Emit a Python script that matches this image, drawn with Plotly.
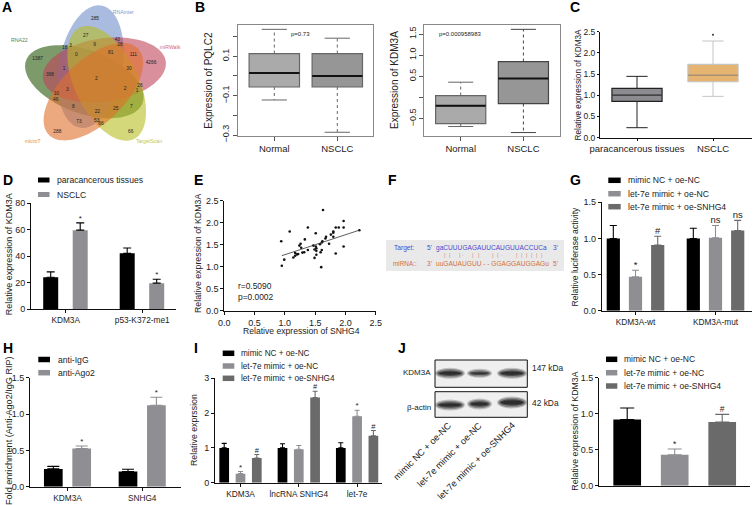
import numpy as np
import plotly.graph_objects as go

W, H = 753, 505
FONT = "Liberation Sans"
BLACK, GREY, DGREY = "#000000", "#8e8e93", "#6a6a6a"

# ---------- data ----------
venn_names = ["RNAinter", "miRWalk", "TargetScan", "microT", "RNA22"]
venn_colors = ["#708eca", "#c0445a", "#b9bc23", "#df702a", "#265708"]
venn_cx = [272, 313, 320, 280, 253]
venn_cy = [200, 210, 250, 275, 245]
venn_a = [186, 186, 186, 186, 186]
venn_b = [95, 95, 95, 95, 95]
venn_ang = [80, 8, -64, 44, -20]
venn_name_x = [370, 510, 447, 98, 58]
venn_name_y = [39, 143, 424, 424, 123]
venn_name_col = ["#7f9ad0", "#cf6a7e", "#c3c64a", "#e58a50", "#5a7f45"]
venn_lbl = ["285","27","43","28","9","3","18","0","81","111","4266","1387","1","30","368","2","26","2","1","3",
            "10","46","8","7","25","22","53","66","73","288","66"]
venn_lx = [285,257,352,360,284,212,194,229,332,400,453,113,192,387,150,289,420,375,411,202,169,167,220,394,347,292,290,303,237,172,392]
venn_ly = [55,107,118,133,134,138,143,165,158,165,187,175,205,205,225,235,258,265,272,270,282,298,320,320,325,335,363,372,365,395,395]

b_cats = ["Normal", "NSCLC"]
b1_upper = [0.237, 0.192]; b1_q3 = [0.114, 0.114]; b1_med = [0.015, 0.0]; b1_q1 = [-0.056, -0.056]; b1_lower = [-0.122, -0.286]
b2_upper = [0.362, 1.61]; b2_q3 = [0.047, 0.85]; b2_med = [-0.197, 0.449]; b2_q1 = [-0.614, -0.142]; b2_lower = [-0.685, -0.827]

c_cats = ["paracancerous tissues", "NSCLC"]
c_upper = [1.447, 2.28]; c_q3 = [1.163, 1.73]; c_med = [1.0, 1.47]; c_q1 = [0.857, 1.32]; c_lower = [0.236, 0.975]
c_outlier = [2.43]

d_cats = ["KDM3A", "p53-K372-me1"]
d_para = [24, 42]; d_para_err = [4, 4]
d_nsclc = [59.5, 19.5]; d_nsclc_err = [5.5, 3]
d_nsclc_mark = ["*", "*"]

e_x = [.94,.95,.99,1.08,1.14,1.17,1.17,1.2,1.22,1.24,1.26,1.27,1.29,1.32,1.33,1.38,1.38,1.47,1.49,1.49,1.51,1.51,1.52,1.52,1.52,1.58,1.59,1.6,1.61,1.61,1.62,1.63,1.67,1.68,1.73,1.76,1.8,1.8,1.8,1.84,1.84,1.89,1.97,1.97,1.97,2.23]
e_y = [1.58,1.02,1.16,1.8,1.21,1.25,1.31,1.28,1.29,1.48,1.52,1.43,1.32,1.33,1.62,1.89,1.38,1.48,1.39,1.2,1.46,1.76,1.27,1.36,1.42,1.51,1.33,.99,1.55,1.38,1.58,2.29,1.64,1.68,1.52,1.73,1.68,1.77,1.8,1.89,1.3,1.89,1.89,2.04,1.46,1.83]
e_fit_x = [0.95, 2.23]; e_fit_y = [1.25, 1.83]

g_cats = ["KDM3A-wt", "KDM3A-mut"]
g_a = [1.0, 1.0]; g_a_err = [.18, .14]
g_b = [.47, 1.01]; g_b_err = [.09, .17]; g_b_mark = ["*", "ns"]
g_c = [.91, 1.11]; g_c_err = [.12, .14]; g_c_mark = ["#", "ns"]

h_cats = ["KDM3A", "SNHG4"]
h_igg = [.245, .21]; h_igg_err = [.035, .03]
h_ago = [.525, 1.12]; h_ago_err = [.035, .11]; h_ago_mark = ["*", "*"]

i_cats = ["KDM3A", "lncRNA SNHG4", "let-7e"]
i_a = [1.0, 1.0, 1.0]; i_a_err = [.13, .12, .15]
i_b = [.26, .96, 1.91]; i_b_err = [.06, .11, .17]; i_b_mark = ["*", "", "*"]
i_c = [.71, 2.45, 1.35]; i_c_err = [.1, .18, .15]; i_c_mark = ["#", "#", "#"]

j_groups = ["mimic NC + oe-NC", "let-7e mimic + oe-NC", "let-7e mimic + oe-SNHG4"]
j_vals = [.92, .43, .885]; j_err = [.16, .08, .105]; j_mark = ["", "*", "#"]

bands_x0 = [437, 469, 499]
bands_x1 = [463, 490, 525]
blot1_y = [373.3, 373.3, 373.3]; blot1_h = [7, 5, 7]
blot2_y = [405, 404, 402.5]; blot2_h = [7, 7, 8]

# ---------- helpers ----------
fig = go.Figure()
layout = dict(width=W, height=H, margin=dict(l=0, r=0, t=0, b=0, autoexpand=False),
              paper_bgcolor="white", plot_bgcolor="rgba(0,0,0,0)", showlegend=False,
              font=dict(family=FONT, size=9, color="#222222"), barmode="overlay", boxmode="overlay")
annotations, shapes = [], []
axis_no = 0


def lin(p, p0, v0, p1, v1):
    return v0 + (p - p0) * (v1 - v0) / (p1 - p0)


def new_axes(x0, x1, ytop, ybot, xr, yr, xo=None, yo=None):
    global axis_no
    axis_no += 1
    n = "" if axis_no == 1 else str(axis_no)
    base = dict(showline=True, linecolor="#111111", linewidth=1, ticks="outside", ticklen=3, tickwidth=1,
                tickcolor="#111111", showgrid=False, zeroline=False, tickfont=dict(family=FONT, size=9, color="#222222"))
    xa = dict(base); xa.update(domain=[x0 / W, x1 / W], range=xr, anchor="y" + n); xa.update(xo or {})
    ya = dict(base); ya.update(domain=[1 - ybot / H, 1 - ytop / H], range=yr, anchor="x" + n); ya.update(yo or {})
    layout["xaxis" + n] = xa
    layout["yaxis" + n] = ya
    return "x" + n, "y" + n


def text(x, y, s, size=9, anchor="left", color="#222222", angle=0, yanchor="middle", bold=False):
    annotations.append(dict(x=x / W, y=1 - y / H, xref="paper", yref="paper", text=("<b>%s</b>" % s) if bold else s,
                            showarrow=False, xanchor=anchor, yanchor=yanchor, textangle=angle,
                            font=dict(family=FONT, size=size, color=color), borderpad=0))


def swatches(x0, x1, names, ys, colors, tx, h=5.5, size=8.6):
    for nm, y, c in zip(names, ys, colors):
        shapes.append(dict(type="rect", xref="paper", yref="paper", x0=x0 / W, x1=x1 / W,
                           y0=1 - (y + h / 2) / H, y1=1 - (y - h / 2) / H, fillcolor=c, line=dict(width=0)))
        text(tx, y, nm, size=size)


def bars(xa, ya, vals, errs, color, offset, width, marks=None, mark_size=9, cap=3.5):
    xs = list(range(len(vals)))
    fig.add_trace(go.Bar(x=xs, y=vals, width=width, offset=offset - width / 2, marker=dict(color=color, line=dict(width=0)),
                         error_y=dict(type="data", array=errs, arrayminus=[0] * len(errs), symmetric=False,
                                      color=color, thickness=1.1, width=cap), xaxis=xa, yaxis=ya))
    if marks:
        tops = [v + e for v, e in zip(vals, errs)]
        fig.add_trace(go.Scatter(x=[i + offset for i in xs], y=tops, mode="text", text=marks, textposition="top center",
                                 textfont=dict(family=FONT, size=mark_size, color="#222222"), cliponaxis=False,
                                 xaxis=xa, yaxis=ya))


def box(xa, ya, pos, width, lower, q1, med, q3, upper, fill, line, medline, medw=2, dash="dot", capw=0.2, wcol=None, lw=1.2):
    wcol = wcol or line
    for p, lo, a, m, b, up, f, l, ml, wc in zip(pos, lower, q1, med, q3, upper, fill, line, medline, wcol):
        fig.add_trace(go.Scatter(x=[p, p, None, p, p], y=[a, lo, None, b, up], mode="lines",
                                 line=dict(color=wc, width=1, dash=dash), xaxis=xa, yaxis=ya))
        fig.add_trace(go.Scatter(x=[p - capw, p + capw, None, p - capw, p + capw], y=[lo, lo, None, up, up], mode="lines",
                                 line=dict(color=wc, width=1), xaxis=xa, yaxis=ya))
        fig.add_trace(go.Box(x=[p], q1=[a], median=[m], q3=[b], lowerfence=[a], upperfence=[b], width=width,
                             fillcolor=f, line=dict(color=l, width=lw), boxpoints=False, xaxis=xa, yaxis=ya))
        fig.add_trace(go.Scatter(x=[p - width / 2, p + width / 2], y=[m, m], mode="lines",
                                 line=dict(color=ml, width=medw), xaxis=xa, yaxis=ya))


def group_range(x0, x1, c0, sp):
    return [(x0 - c0) / sp, (x1 - c0) / sp]


# ---------- A ----------
xa, ya = new_axes(0, 190, 0, 170, [0, 570], [510, 0], dict(visible=False), dict(visible=False))
t = np.linspace(0, 2 * np.pi, 120)
order = [4, 0, 1, 2, 3]
for k in order:
    th = np.deg2rad(venn_ang[k])
    ex = venn_cx[k] + venn_a[k] * np.cos(t) * np.cos(th) - venn_b[k] * np.sin(t) * np.sin(th)
    ey = venn_cy[k] - venn_a[k] * np.cos(t) * np.sin(th) - venn_b[k] * np.sin(t) * np.cos(th)
    fig.add_trace(go.Scatter(x=ex, y=ey, mode="none", fill="toself", fillcolor=venn_colors[k], opacity=0.6,
                             name=venn_names[k], xaxis=xa, yaxis=ya))
fig.add_trace(go.Scatter(x=venn_lx, y=venn_ly, mode="text", text=venn_lbl,
                         textfont=dict(family=FONT, size=4.8, color="#222222"), xaxis=xa, yaxis=ya))
fig.add_trace(go.Scatter(x=venn_name_x, y=venn_name_y, mode="text", text=venn_names,
                         textfont=dict(family=FONT, size=5.2, color=venn_name_col), xaxis=xa, yaxis=ya))

# ---------- B ----------
yl = lambda p: lin(p, 56.3, 0.1, 135, -0.3)
xa, ya = new_axes(238, 373.3, 25, 136, group_range(238, 373.3, 274.3, 63), [yl(136), yl(25)],
                  dict(mirror=True, linecolor="#888888", tickvals=[0, 1], ticktext=b_cats, tickcolor="#555555",
                       tickfont=dict(family=FONT, size=9.5, color="#222222"), ticklen=4),
                  dict(mirror=True, linecolor="#888888", tickvals=[-.3, -.2, -.1, 0, .1, .2], tickcolor="#555555",
                       ticktext=["\u22120.3", "", "\u22120.1", "", "0.1", ""], tickangle=-90, ticklen=4))
box(xa, ya, [0, 1], 0.8, b1_lower, b1_q1, b1_med, b1_q3, b1_upper, ["#aaaaaa", "#969696"], ["#666666"] * 2, ["#111111"] * 2, capw=0.2)
text(290, 34, "p=0.73", size=6)
text(207.7, 80, "Expression of PQLC2", size=10, anchor="center", angle=-90)

yl = lambda p: lin(p, 34, 1.5, 118.7, -0.5)
xa, ya = new_axes(424.3, 560, 25, 136, group_range(424.3, 560, 460.7, 62.7), [yl(136), yl(25)],
                  dict(mirror=True, linecolor="#888888", tickvals=[0, 1], ticktext=b_cats, tickcolor="#555555",
                       tickfont=dict(family=FONT, size=9.5, color="#222222"), ticklen=4),
                  dict(mirror=True, linecolor="#888888", tickvals=[-.5, 0, .5, 1, 1.5], tickcolor="#555555",
                       ticktext=["\u22120.5", "", "0.5", "1.0", "1.5"], tickangle=-90, ticklen=4))
box(xa, ya, [0, 1], 0.8, b2_lower, b2_q1, b2_med, b2_q3, b2_upper, ["#aaaaaa", "#969696"], ["#666666", "#444444"], ["#111111"] * 2, capw=0.2)
text(438, 34, "p=0.000958983", size=6)
text(394, 80, "Expression of KDM3A", size=10, anchor="center", angle=-90)

# ---------- C ----------
xa, ya = new_axes(600, 752, 31.7, 137.7, group_range(600, 752, 637, 76), [0, 2.5],
                  dict(tickvals=[0, 1], ticktext=c_cats, ticklen=2, tickfont=dict(family=FONT, size=9.5, color="#222222")),
                  dict(tickvals=[0, .5, 1, 1.5, 2, 2.5], tickformat=".1f", ticklen=2, tickfont=dict(family=FONT, size=8.5, color="#222222")))
box(xa, ya, [0, 1], 0.66, c_lower, c_q1, c_med, c_q3, c_upper, ["#8b8b90", "#e5b470"], ["#222222", "#c4c4c4"],
    ["#444444", "#a99070"], medw=1.5, dash="solid", capw=0.14, wcol=["#222222", "#c4c4c4"])
fig.add_trace(go.Scatter(x=[1], y=c_outlier, mode="markers", marker=dict(size=2, color="#333333"), xaxis=xa, yaxis=ya))
text(577.5, 85, "Relative expression of KDM3A", size=8.2, anchor="center", angle=-90)

# ---------- D ----------
xa, ya = new_axes(31, 175.7, 203, 309, group_range(31, 175.7, 65.7, 76.5), [0, 80],
                  dict(tickvals=[0, 1], ticktext=d_cats, tickfont=dict(family=FONT, size=8.3, color="#222222")),
                  dict(tickvals=[0, 20, 40, 60, 80]))
bars(xa, ya, d_para, d_para_err, BLACK, -15 / 76.5, 15 / 76.5, cap=4)
bars(xa, ya, d_nsclc, d_nsclc_err, GREY, 14.5 / 76.5, 15 / 76.5, d_nsclc_mark, 8, cap=4)
fig.data[-2].error_y.color = BLACK
swatches(38, 49.5, ["paracancerous tissues", "NSCLC"], [180, 194.5], [BLACK, GREY], 56, h=5)
text(9.3, 254, "Relative expression of KDM3A", size=9, anchor="center", angle=-90)

# ---------- E ----------
xa, ya = new_axes(224.3, 375.7, 200.7, 310.7, [0, 2.5], [0, 2.5],
                  dict(tickvals=[0, .5, 1, 1.5, 2, 2.5], tickformat=".1f"),
                  dict(tickvals=[0, .5, 1, 1.5, 2, 2.5], tickformat=".1f"))
fig.add_trace(go.Scatter(x=e_x, y=e_y, mode="markers", marker=dict(size=2.6, color="#111111"), xaxis=xa, yaxis=ya))
fig.add_trace(go.Scatter(x=e_fit_x, y=e_fit_y, mode="lines", line=dict(color="#333333", width=0.8), xaxis=xa, yaxis=ya))
text(236.5, 285.7, "r=0.5090", size=8.4)
text(236.5, 296.7, "p=0.0002", size=8.4)
text(301.7, 331, "Relative expression of SNHG4", size=8.6, anchor="center")
text(198, 254, "Relative expression of KDM3A", size=8.8, anchor="center", angle=-90)

# ---------- F ----------
shapes.append(dict(type="rect", xref="paper", yref="paper", x0=386 / W, x1=564 / W, y0=1 - 271 / H, y1=1 - 240 / H,
                   fillcolor="#e9e9e9", line=dict(width=0), layer="below"))
BLUE, ORANGE = "#4a4ad0", "#d2703a"
text(392.7, 247.5, "Target:", 6.6, color=BLUE)
text(426, 247.5, "5'", 6.6, color=BLUE)
text(435, 247.5, "gaCUUUGAGAUUCAUGUUACCUCa", 6.6, color=BLUE)
text(552, 247.5, "3'", 6.6, color=BLUE)
text(391.7, 263, "miRNA::", 6.4, color=ORANGE)
text(426, 263, "3'", 6.6, color=ORANGE)
text(435, 263, "uuGAUAUGUU - - GGAGGAUGGAGu", 6.6, color=ORANGE)
text(552, 263, "5'", 6.6, color=ORANGE)
for zx, ch in zip([193, 207, 238, 250, 278, 295, 338, 353, 367, 410, 425, 440, 454, 468, 483],
                  "|||.||||.||||||"):
    text(380 + zx / 3, 254.8, "|" if ch == "|" else "\u00b7", 5.5, anchor="center", color="#cf8a80")

# ---------- G ----------
xa, ya = new_axes(601.7, 751.7, 202.3, 310.7, group_range(601.7, 751.7, 635.5, 80), [0, 1.5],
                  dict(tickvals=[0, 1], ticktext=g_cats, tickfont=dict(family=FONT, size=8.3, color="#222222")),
                  dict(tickvals=[0, .5, 1, 1.5], tickformat=".1f", tickfont=dict(family=FONT, size=9, color="#222222")))
bars(xa, ya, g_a, g_a_err, BLACK, -22.2 / 80, 13.2 / 80)
bars(xa, ya, g_b, g_b_err, GREY, 0, 13.2 / 80, g_b_mark, 9.5)
bars(xa, ya, g_c, g_c_err, DGREY, 22.2 / 80, 13.2 / 80, g_c_mark, 9.5)
swatches(608.3, 620.7, j_groups, [180.3, 193.7, 206.7], [BLACK, GREY, DGREY], 626.7)
text(574.5, 257, "Relative luciferase activity", size=8.6, anchor="center", angle=-90)

# ---------- H ----------
xa, ya = new_axes(30, 180.7, 377.7, 486.7, group_range(30, 180.7, 67.5, 74.7), [0, 1.5],
                  dict(tickvals=[0, 1], ticktext=h_cats, tickfont=dict(family=FONT, size=8.3, color="#222222")),
                  dict(tickvals=[0, .5, 1, 1.5], tickformat=".1f"))
bars(xa, ya, h_igg, h_igg_err, BLACK, -14.2 / 74.7, 18.7 / 74.7, cap=6)
bars(xa, ya, h_ago, h_ago_err, GREY, 14.2 / 74.7, 18.7 / 74.7, h_ago_mark, 8, cap=6)
swatches(38.3, 50, ["anti-IgG", "anti-Ago2"], [359.5, 372.7], [BLACK, GREY], 56.7, h=5.5)
text(9, 431, "Fold enrichment (Anti-Ago2/IgG RIP)", size=9.1, anchor="center", angle=-90)

# ---------- I ----------
xa, ya = new_axes(215, 381.7, 378.3, 482.7, group_range(215, 381.7, 240.5, 58.3), [0, 3],
                  dict(tickvals=[0, 1, 2], ticktext=i_cats, tickfont=dict(family=FONT, size=8.3, color="#222222")),
                  dict(tickvals=[0, 1, 2, 3]))
bars(xa, ya, i_a, i_a_err, BLACK, -16.3 / 58.3, 9.7 / 58.3, cap=2.5)
bars(xa, ya, i_b, i_b_err, GREY, 0, 9.7 / 58.3, i_b_mark, 8, cap=2.5)
bars(xa, ya, i_c, i_c_err, DGREY, 16.3 / 58.3, 9.7 / 58.3, i_c_mark, 7.5, cap=2.5)
swatches(222.7, 234.3, j_groups, [353.3, 366, 378.3], [BLACK, GREY, DGREY], 240, size=8.2)
text(194, 430, "Relative exprssion", size=8.8, anchor="center", angle=-90)

# ---------- J blot ----------
for y0, y1 in [(360, 387.3), (391.7, 417.3)]:
    shapes.append(dict(type="rect", xref="paper", yref="paper", x0=435 / W, x1=527.3 / W, y0=1 - y1 / H, y1=1 - y0 / H,
                       fillcolor="#efefef", line=dict(color="#111111", width=1)))
for ys, hs in [(blot1_y, blot1_h), (blot2_y, blot2_h)]:
    for x0, x1, yc, h in zip(bands_x0, bands_x1, ys, hs):
        for grow, op in [(2, .22), (0.8, .35), (-0.8, .55), (-2, .6)]:
            shapes.append(dict(type="circle", xref="paper", yref="paper", x0=(x0 - grow) / W, x1=(x1 + grow) / W,
                               y0=1 - (yc + h / 2 + grow) / H, y1=1 - (yc - h / 2 - grow) / H,
                               fillcolor="#1a1a1a", opacity=op, line=dict(width=0)))
text(432.3, 372.3, "KDM3A", 8, anchor="right")
text(432.3, 407.3, "\u03b2-actin", 8, anchor="right")
text(530.7, 367.7, "147 kDa", 8.4)
text(530.7, 403.3, "42 kDa", 8.4)
for xr_, nm in zip([455, 485, 518.3], j_groups):
    text(xr_, 419, nm, 9.2, anchor="right", angle=-45, yanchor="top")

# ---------- J bars ----------
xa, ya = new_axes(599, 750, 377.7, 485.7, group_range(599, 750, 627.2, 47.5), [0, 1.5],
                  dict(tickvals=[], ticks=""),
                  dict(tickvals=[0, .5, 1, 1.5], tickformat=".1f"))
for i_, (v, e, c, m) in enumerate(zip(j_vals, j_err, [BLACK, GREY, DGREY], j_mark)):
    fig.add_trace(go.Bar(x=[i_], y=[v], width=27.7 / 47.5, marker=dict(color=c, line=dict(width=0)),
                         error_y=dict(type="data", array=[e], arrayminus=[0], symmetric=False, color=c, thickness=1.1, width=7),
                         xaxis=xa, yaxis=ya))
    fig.add_trace(go.Scatter(x=[i_], y=[v + e], mode="text", text=[m], textposition="top center",
                             textfont=dict(family=FONT, size=8.5, color="#222222"), cliponaxis=False, xaxis=xa, yaxis=ya))
swatches(606, 617.3, j_groups, [359.3, 372.7, 386], [BLACK, GREY, DGREY], 623.3, size=8.5)
text(575, 431.7, "Relative expression of KDM3A", size=8.8, anchor="center", angle=-90)

# ---------- panel letters ----------
for s, x, y in [("A", 0.5, 7), ("B", 193.5, 7), ("C", 569, 7), ("D", 1.5, 180), ("E", 193, 180), ("F", 387, 180),
                ("G", 569, 180), ("H", 1.5, 348), ("I", 193, 348), ("J", 396.5, 348)]:
    text(x, y, s, 14, color="#000000", bold=True)

layout["annotations"] = annotations
layout["shapes"] = shapes
fig.update_layout(**layout)
fig.update_traces(hoverinfo="skip")
fig.write_html("out.html", config=dict(displayModeBar=False, responsive=False),
               post_script="document.body.style.margin='0';document.body.style.overflow='hidden';")
